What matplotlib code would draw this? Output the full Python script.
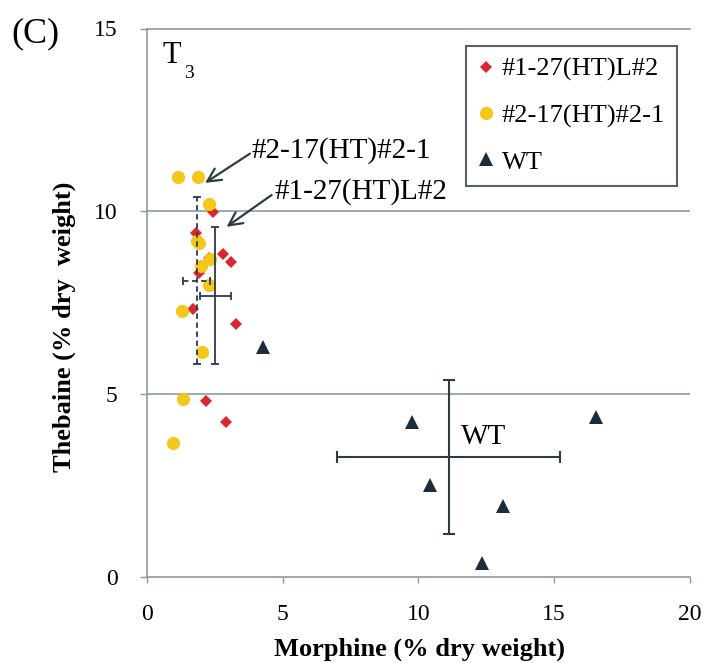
import matplotlib
matplotlib.use("Agg")
import matplotlib.pyplot as plt

plt.rcParams['font.family'] = ['Liberation Serif', 'DejaVu Serif']

# line #1-27(HT)L#2 (red diamonds)
red_x = [2.43, 1.81, 2.82, 3.09, 1.94, 1.72, 3.28, 2.17, 2.91, 2.29]
red_y = [9.99, 9.42, 8.85, 8.62, 8.31, 7.32, 6.91, 4.82, 4.25, 8.72]
# line #2-17(HT)#2-1 (yellow circles)
yel_x = [1.16, 1.90, 2.30, 1.86, 1.92, 2.33, 1.99, 2.30, 1.29, 2.02, 1.35, 0.98]
yel_y = [10.93, 10.93, 10.19, 9.19, 9.15, 8.69, 8.51, 7.99, 7.28, 6.16, 4.86, 3.68]
# wild type (triangles)
wt_x = [4.27, 9.75, 10.43, 13.10, 12.35, 16.54]
wt_y = [6.30, 4.25, 2.52, 1.96, 0.38, 4.39]

# means and standard deviations
red_mean = (2.53, 7.70)
red_err = (0.565, 1.87)
yel_mean = (1.84, 8.11)
yel_err = (0.49, 2.29)
wt_mean = (11.11, 3.28)
wt_err = (4.10, 2.10)

labels = ['#1-27(HT)L#2', '#2-17(HT)#2-1', 'WT']

grid_col = '#8c99a5'
dark = '#2e3a44'

fig = plt.figure(figsize=(7.04, 6.63), dpi=100)
ax = fig.add_axes([146.7/704, 1 - 577.3/663, 543.3/704, 548.8/663])

ax.plot(red_x, red_y, 'D', color='#d9262f', markersize=6.6, markeredgewidth=0,
        label=labels[0], zorder=3)
ax.plot(yel_x, yel_y, 'o', color='#f3c81b', markersize=9.5, markeredgewidth=0,
        label=labels[1], zorder=3)
ax.plot(wt_x, wt_y, '^', color='#1d2c3a', markersize=9.4, markeredgewidth=0,
        label=labels[2], zorder=3)

# error bars
eb = ax.errorbar(yel_mean[0], yel_mean[1], xerr=yel_err[0], yerr=yel_err[1],
                 fmt='none', ecolor=dark, elinewidth=1.3, capsize=3, capthick=1.3,
                 zorder=4)
for lc in eb[2]:
    lc.set_linestyle((0, (3, 2)))
ax.errorbar(red_mean[0], red_mean[1], xerr=red_err[0], yerr=red_err[1],
            fmt='none', ecolor=dark, elinewidth=1.3, capsize=3, capthick=1.3, zorder=4)
ax.errorbar(wt_mean[0], wt_mean[1], xerr=wt_err[0], yerr=wt_err[1],
            fmt='none', ecolor=dark, elinewidth=1.5, capsize=4.5, capthick=1.5, zorder=4)

ax.set_xlim(0, 20)
ax.set_ylim(0, 15)
ax.set_xticks([0, 5, 10, 15, 20])
ax.set_yticks([0, 5, 10, 15])

for y in [5, 10]:
    ax.axhline(y, color=grid_col, lw=1.2, zorder=1)

for s in ['left', 'bottom', 'top']:
    ax.spines[s].set_color(grid_col)
    ax.spines[s].set_linewidth(1.2)
ax.spines['right'].set_visible(False)

ax.tick_params(axis='x', direction='out', length=4.3, width=1, color=grid_col,
               pad=15, labelsize=17)
ax.tick_params(axis='y', direction='out', length=5, width=1, color=grid_col,
               pad=16, labelsize=17)

fig.text(420/704, 1 - 649/663, 'Morphine (% dry weight)', ha='center', va='center',
         fontsize=19, fontweight='bold')
fig.text(64/704, 1 - 327/663, 'Thebaine (% dry  weight)', ha='center', va='center',
         rotation=90, fontsize=19, fontweight='bold')

fig.text(11.7/704, 1 - 42/663, '(C)', fontsize=26, ha='left', va='baseline')
ax.text(0.59, 14.05, 'T', fontsize=22, ha='left', va='baseline')
ax.text(1.36, 13.64, '3', fontsize=14, ha='left', va='baseline')

# callouts
ax.annotate('', xy=(2.15, 10.78), xytext=(3.80, 11.58),
            arrowprops=dict(arrowstyle='->', color=dark, lw=1.6,
                            mutation_scale=24, shrinkA=0, shrinkB=0))
ax.annotate('', xy=(2.94, 9.58), xytext=(4.60, 10.45),
            arrowprops=dict(arrowstyle='->', color=dark, lw=1.6,
                            mutation_scale=24, shrinkA=0, shrinkB=0))
ax.text(3.86, 11.46, labels[1], fontsize=21, ha='left', va='baseline')
ax.text(4.72, 10.34, labels[0], fontsize=21, ha='left', va='baseline')
ax.text(12.41, 3.83, 'WT', fontsize=21, ha='center', va='center')

leg = ax.legend(loc='upper right', bbox_to_anchor=(0.976, 0.9687), borderaxespad=0,
                fontsize=19, frameon=True, fancybox=False, handlelength=0.6,
                handletextpad=0.3, labelspacing=0.85, borderpad=0.45)
leg.get_frame().set_edgecolor(dark)
leg.get_frame().set_linewidth(1.5)

fig.savefig('out.png', dpi=100)
